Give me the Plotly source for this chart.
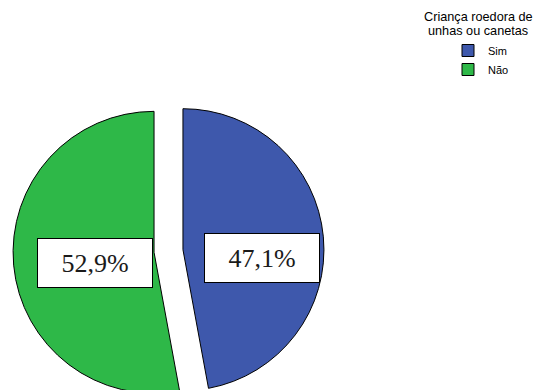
import plotly.graph_objects as go

# Data
labels = ["Sim", "Não"]
values = [47.1, 52.9]
colors = ["#3E58AC", "#2EB848"]
legend_title_lines = ["Criança roedora de", "unhas ou canetas"]

W, H = 539, 410


def px_x(x):
    return x / W


def px_y(y):
    return (H - y) / H


fig = go.Figure()
fig.add_trace(go.Pie(
    labels=labels,
    values=values,
    sort=False,
    direction="clockwise",
    rotation=0,
    pull=[0.103, 0.103],
    marker=dict(colors=colors, line=dict(color="#000000", width=1)),
    textinfo="none",
    hoverinfo="label+percent",
    domain=dict(x=[px_x(13), px_x(324)], y=[px_y(406.5), px_y(95.5)]),
))

# Percentage boxes, text built from the values
label_pos = {"Sim": (262, 257.5), "Não": (95, 263)}
annotations = []
for lab, v in zip(labels, values):
    cx, cy = label_pos[lab]
    txt = f"{v:.1f}%".replace(".", ",")
    annotations.append(dict(
        x=px_x(cx), y=px_y(cy), xref="paper", yref="paper",
        xanchor="center", yanchor="middle", showarrow=False,
        text=txt, width=112, height=46,
        font=dict(family="Liberation Serif", size=26, color="#1a1a1a"),
        bgcolor="#ffffff", bordercolor="#000000", borderwidth=1, borderpad=1,
    ))

# Legend title lines
for line, ly in zip(legend_title_lines, [17, 31]):
    annotations.append(dict(
        x=px_x(478), y=px_y(ly), xref="paper", yref="paper",
        xanchor="center", yanchor="middle", showarrow=False,
        text=line,
        font=dict(family="Liberation Sans", size=12.7, color="#000000"),
    ))

fig.update_layout(
    width=W, height=H,
    margin=dict(l=0, r=0, t=0, b=0),
    paper_bgcolor="#ffffff",
    plot_bgcolor="#ffffff",
    annotations=annotations,
    showlegend=True,
    legend=dict(
        x=px_x(448), y=px_y(36), xanchor="left", yanchor="top",
        font=dict(family="Liberation Sans", size=11, color="#000000"),
        bgcolor="rgba(0,0,0,0)", borderwidth=0,
        itemwidth=30, tracegroupgap=0,
    ),
)

fig.write_html(
    "out.html",
    post_script="document.body.style.margin='0';document.body.style.overflow='hidden';",
)
